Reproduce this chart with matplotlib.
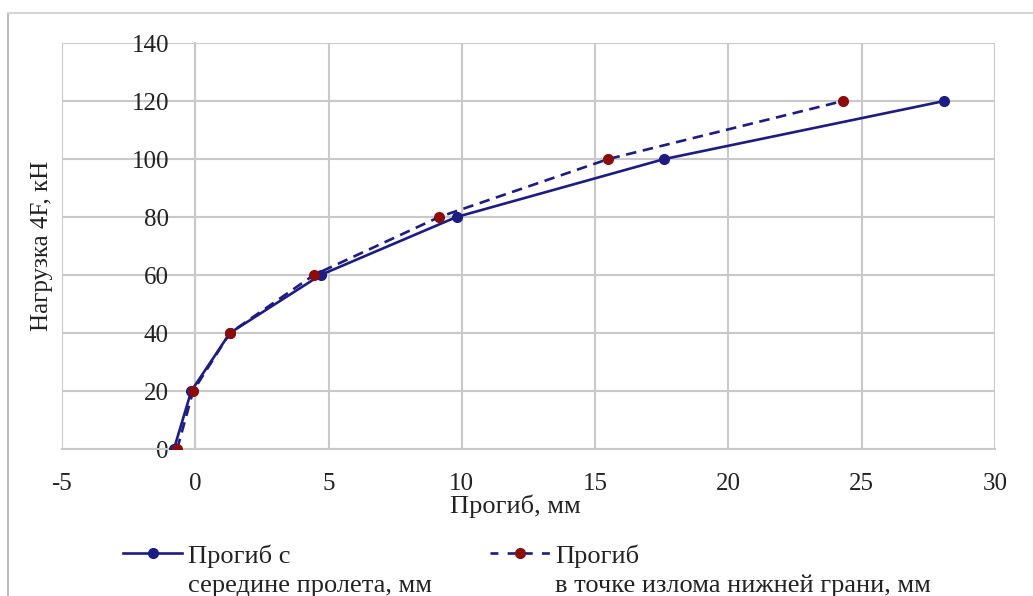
import matplotlib
matplotlib.use("Agg")
import matplotlib.pyplot as plt
from matplotlib.lines import Line2D

plt.rcParams['font.family'] = ['Liberation Serif', 'DejaVu Serif']
plt.rcParams['axes.unicode_minus'] = False

load = [0, 20, 40, 60, 80, 100, 120]
mid_span = [-0.8, -0.15, 1.3, 4.7, 9.8, 17.6, 28.1]
kink_point = [-0.68, -0.08, 1.3, 4.45, 9.15, 15.5, 24.3]

x_ticks = [-5, 0, 5, 10, 15, 20, 25, 30]
y_ticks = [0, 20, 40, 60, 80, 100, 120, 140]

label_mid = ["Прогиб с", "середине пролета, мм"]
label_kink = ["Прогиб", "в точке излома нижней грани, мм"]
x_label = "Прогиб, мм"
y_label = "Нагрузка 4F, кН"

navy = "#1c1c82"
dark_red = "#8a0c0c"
grid_c = "#c9c9c9"
text_c = "#222222"

fig = plt.figure(figsize=(10.33, 5.96), dpi=100)
ax = fig.add_axes([62/1033, 1-449/596, (995-62)/1033, (449-43)/596])

ax.set_xlim(-5, 30)
ax.set_ylim(0, 140)
ax.set_xticks(x_ticks)
ax.set_yticks(y_ticks)
ax.grid(True, color=grid_c, linewidth=1.5)
ax.set_axisbelow(True)
for s in ['top', 'right']:
    ax.spines[s].set_visible(False)
ax.spines['left'].set_position(('data', 0))
ax.spines['left'].set_color(grid_c)
ax.spines['left'].set_linewidth(1.5)
ax.spines['bottom'].set_color(grid_c)
ax.spines['bottom'].set_linewidth(1.5)
ax.tick_params(axis='both', length=0, labelsize=18, colors=text_c)
ax.tick_params(axis='y', pad=19)
ax.tick_params(axis='x', pad=17)

l1, = ax.plot(mid_span, load, color=navy, linewidth=1.9, marker='o',
              markersize=7, markerfacecolor=navy, markeredgecolor=navy, zorder=3)
l2, = ax.plot(kink_point, load, color=navy, linewidth=1.9, linestyle=(0, (4, 2.5)),
              marker='o', markersize=7, markerfacecolor=dark_red,
              markeredgecolor=dark_red, zorder=4)

ax.set_ylabel(y_label, fontsize=18, color=text_c)
ax.yaxis.set_label_coords((53-62)/933, 0.5)
fig.text(515/1033, 1-506/596, x_label, fontsize=19, ha='center',
         va='center', color=text_c)

empty = Line2D([], [], linestyle='none')
h1 = Line2D([], [], color=navy, linewidth=1.9, marker='o', markersize=7,
            markerfacecolor=navy, markeredgecolor=navy)
h2 = Line2D([], [], color=navy, linewidth=1.9, linestyle=(0, (3, 3.5)), marker='o',
            markersize=7, markerfacecolor=dark_red, markeredgecolor=dark_red)
leg = fig.legend([h1, empty, h2, empty],
                 [label_mid[0], label_mid[1], label_kink[0], label_kink[1]],
                 ncol=2, loc='upper left', bbox_to_anchor=(123/1033, 1-544/596),
                 frameon=False, fontsize=19, handlelength=2.25, handletextpad=0.22,
                 columnspacing=2.2, labelspacing=0.22, borderaxespad=0, borderpad=0)
for t in leg.get_texts():
    t.set_color(text_c)

fig.add_artist(Line2D([8/1033, 8/1033], [0, 1-13/596], color='#bdbdbd', linewidth=1.5))
fig.add_artist(Line2D([8/1033, 1], [1-13/596, 1-13/596], color='#d5d5d5', linewidth=1.5))

fig.savefig("out.png", dpi=100)
